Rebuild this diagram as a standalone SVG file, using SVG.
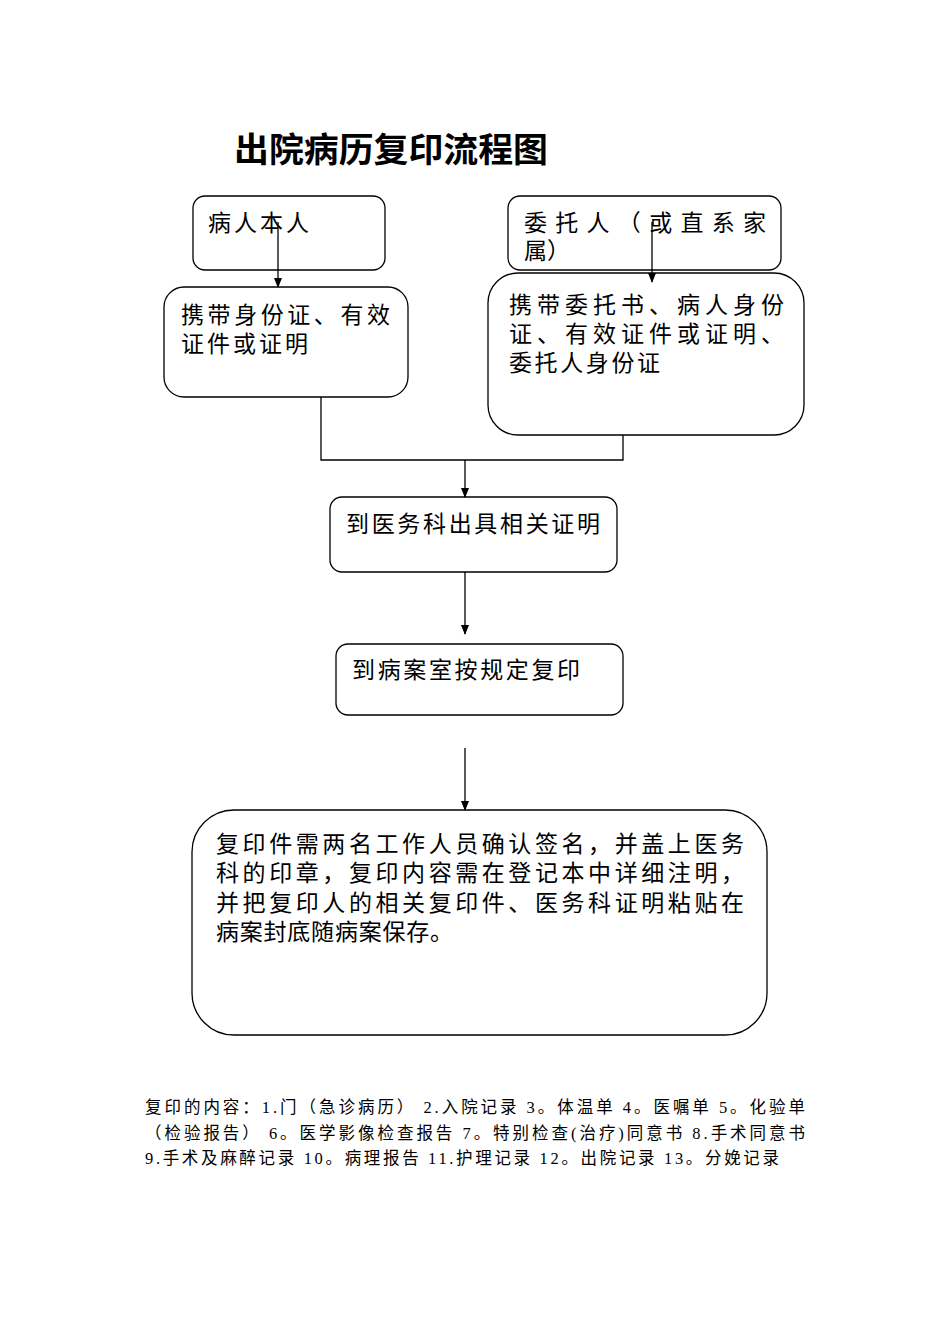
<svg xmlns="http://www.w3.org/2000/svg" width="950" height="1344" viewBox="0 0 950 1344">
<defs>
<style>
.box{fill:#fff;stroke:#000;stroke-width:1.3}
.t{font-family:"Noto Sans CJK SC","Noto Sans CJK JP",sans-serif;font-size:23px;fill:#000}
.title{font-family:"Noto Sans CJK SC",sans-serif;font-size:34px;font-weight:bold;fill:#000}
.foot{font-family:"Liberation Serif","Noto Sans CJK SC",serif;font-size:16.5px;fill:#000}
.conn{fill:none;stroke:#000;stroke-width:1.3}
</style>
<marker id="arr" markerWidth="10" markerHeight="10" refX="9" refY="5" orient="auto" markerUnits="userSpaceOnUse">
<path d="M0,1 L10,5 L0,9 Z" fill="#000"/>
</marker>
</defs>
<rect width="950" height="1344" fill="#fff"/>
<text class="title" x="234" y="162" textLength="314" lengthAdjust="spacingAndGlyphs">出院病历复印流程图</text>

<g id="n1">
<rect class="box" x="193" y="196" width="192" height="74" rx="12"/>
<text class="t" x="208" y="231" textLength="101">病人本人</text>
</g>
<g id="n2">
<rect class="box" x="164" y="287" width="244" height="110" rx="20"/>
<text class="t" x="181" y="323" textLength="209">携带身份证、有效</text>
<text class="t" x="181" y="352" textLength="127">证件或证明</text>
</g>
<g id="n3">
<rect class="box" x="508" y="196" width="273" height="74" rx="12"/>
<text class="t" x="524" y="231" textLength="242">委托人（或直系家</text>
<text class="t" x="524" y="259">属）</text>
</g>
<g id="n4">
<rect class="box" x="488" y="273" width="316" height="162" rx="30"/>
<text class="t" x="509" y="313" textLength="275">携带委托书、病人身份</text>
<text class="t" x="509" y="342" textLength="275">证、有效证件或证明、</text>
<text class="t" x="509" y="371" textLength="151">委托人身份证</text>
</g>
<g id="n5">
<rect class="box" x="330" y="497" width="287" height="75" rx="12"/>
<text class="t" x="346" y="532" textLength="254">到医务科出具相关证明</text>
</g>
<g id="n6">
<rect class="box" x="336" y="644" width="287" height="71" rx="12"/>
<text class="t" x="352" y="678" textLength="228">到病案室按规定复印</text>
</g>
<g id="n7">
<rect class="box" x="192" y="810" width="575" height="225" rx="42"/>
<text class="t" x="216" y="852" textLength="528">复印件需两名工作人员确认签名，并盖上医务</text>
<text class="t" x="216" y="881" textLength="528">科的印章，复印内容需在登记本中详细注明，</text>
<text class="t" x="216" y="911" textLength="528">并把复印人的相关复印件、医务科证明粘贴在</text>
<text class="t" x="216" y="940" textLength="237">病案封底随病案保存。</text>
</g>

<g id="connectors">
<line class="conn" x1="278" y1="222" x2="278" y2="287" marker-end="url(#arr)"/>
<line class="conn" x1="652" y1="222" x2="652" y2="282" marker-end="url(#arr)"/>
<polyline class="conn" points="321,397 321,460 623,460 623,435"/>
<line class="conn" x1="465" y1="460" x2="465" y2="497" marker-end="url(#arr)"/>
<line class="conn" x1="465" y1="572" x2="465" y2="634" marker-end="url(#arr)"/>
<line class="conn" x1="465" y1="748" x2="465" y2="810" marker-end="url(#arr)"/>
</g>

<g id="footer">
<text class="foot" x="145" y="1113" textLength="660" lengthAdjust="spacing">复印的内容：1.门（急诊病历）  2.入院记录  3。体温单  4。医嘱单  5。化验单</text>
<text class="foot" x="145" y="1139" textLength="660" lengthAdjust="spacing">（检验报告）  6。医学影像检查报告  7。特别检查(治疗)同意书  8.手术同意书</text>
<text class="foot" x="145" y="1164" textLength="634" lengthAdjust="spacing">9.手术及麻醉记录  10。病理报告  11.护理记录  12。出院记录   13。分娩记录</text>
</g>
</svg>
